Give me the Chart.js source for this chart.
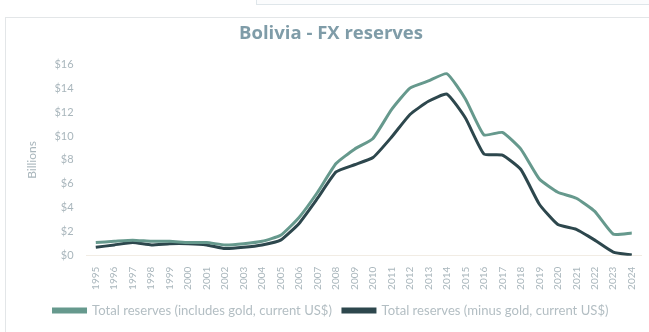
<!DOCTYPE html>
<html>
<head>
<meta charset="utf-8">
<script src="https://cdn.jsdelivr.net/npm/chart.js@4"></script>
<style>
  html, body { margin: 0; padding: 0; background: #fff; }
  body { width: 649px; height: 332px; position: relative; overflow: hidden; }
  .frame { position: absolute; left: 5px; top: 17px; width: 700px; height: 400px; border: 1px solid #e3e6e8; box-sizing: border-box; }
  .tab { position: absolute; left: 256px; top: -4px; width: 420px; height: 7px; border: 1px solid #dfe6ea; background: #fbfcfd; }
  #wrap { position: absolute; left: 0; top: 0; width: 649px; height: 332px; }
</style>
</head>
<body>
<div class="tab"></div>
<div class="frame"></div>
<div id="wrap"><canvas id="c" width="649" height="332"></canvas></div>
<script>
const years = ['1995','1996','1997','1998','1999','2000','2001','2002','2003','2004',
  '2005','2006','2007','2008','2009','2010','2011','2012','2013','2014',
  '2015','2016','2017','2018','2019','2020','2021','2022','2023','2024'];

// Billions of current US$
const withGold = [1.1,1.2,1.3,1.2,1.2,1.1,1.1,0.9,1.0,1.2,1.7,3.2,5.3,7.7,8.9,9.8,12.2,14.0,14.6,15.2,
  13.1,10.1,10.3,8.9,6.4,5.3,4.8,3.7,1.8,1.9];
const minusGold = [0.7,0.9,1.1,0.9,1.0,1.0,0.9,0.6,0.7,0.9,1.3,2.7,4.8,7.0,7.6,8.2,9.9,11.8,12.9,13.5,
  11.5,8.5,8.4,7.2,4.3,2.6,2.2,1.3,0.3,0.05];

const yTicks = [0,2,4,6,8,10,12,14,16];

const textColor = '#a9b6bc';
const font = "Lato, 'Open Sans', sans-serif";

new Chart(document.getElementById('c'), {
  type: 'line',
  data: {
    labels: years,
    datasets: [
      { label: 'Total reserves (includes gold, current US$)', data: withGold,
        borderColor: '#66998d', backgroundColor: '#66998d', borderWidth: 3,
        pointRadius: 0, tension: 0.15 },
      { label: 'Total reserves (minus gold, current US$)', data: minusGold,
        borderColor: '#2d474d', backgroundColor: '#2d474d', borderWidth: 3,
        pointRadius: 0, tension: 0.15 }
    ]
  },
  options: {
    responsive: false,
    animation: false,
    layout: { padding: { left: 21, right: 8, top: 19, bottom: 5 } },
    plugins: {
      title: {
        display: true, text: 'Bolivia - FX reserves', color: '#7f9ca8',
        font: { family: "'Open Sans', sans-serif", size: 18.5, weight: 'bold' },
        padding: { top: 4, bottom: 19 }
      },
      legend: {
        position: 'bottom',
        labels: {
          color: '#b3bec3', boxWidth: 32, boxHeight: 3, padding: 11,
          font: { family: font, size: 13.1 }
        }
      },
      tooltip: { enabled: false }
    },
    scales: {
      x: {
        offset: true,
        grid: { display: false },
        border: { display: true, color: '#f1ece4' },
        ticks: { color: textColor, minRotation: 90, maxRotation: 90, autoSkip: false,
          font: { family: font, size: 10 } }
      },
      y: {
        min: 0, max: 16,
        afterBuildTicks: (axis) => { axis.ticks = yTicks.map(v => ({ value: v })); },
        grid: { display: false },
        border: { display: false },
        title: { display: true, text: 'Billions', color: textColor,
          font: { family: font, size: 12 }, padding: { bottom: 10 } },
        ticks: { color: textColor, padding: 5, font: { family: font, size: 11 },
          callback: (v) => '$' + v }
      }
    }
  }
});
</script>
</body>
</html>
